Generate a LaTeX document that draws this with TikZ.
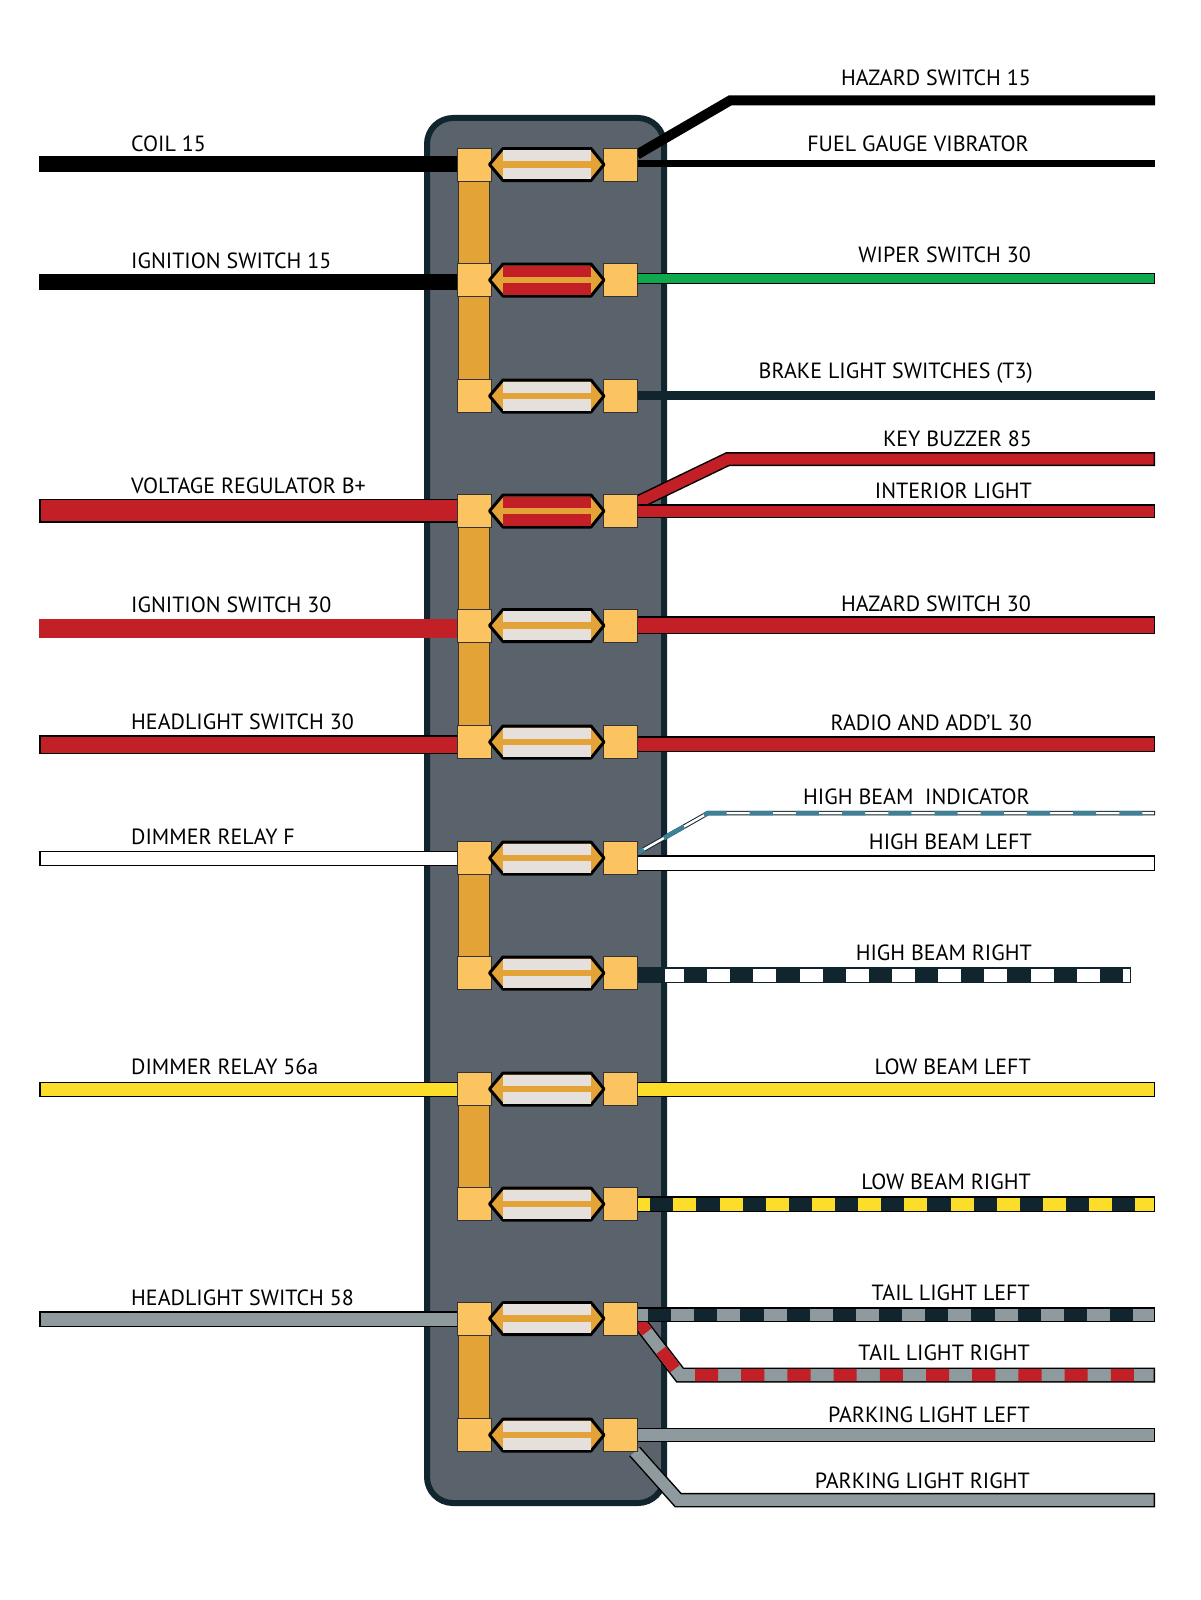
\documentclass[tikz,border=0pt]{standalone}
\usepackage{fontspec}
\setmainfont{PT Sans}
\pgfdeclarelayer{panellayer}
\pgfdeclarelayer{wirelayer}
\pgfsetlayers{panellayer,wirelayer,main}
\definecolor{panelfill}{HTML}{5A636B}
\definecolor{dark}{HTML}{10252D}
\definecolor{termfill}{HTML}{FCC361}
\definecolor{busfill}{HTML}{E3A337}
\definecolor{glass}{HTML}{E6E0DC}
\definecolor{wred}{HTML}{C22026}
\definecolor{wgreen}{HTML}{10A84F}
\definecolor{wyellow}{HTML}{FBDD2A}
\definecolor{wgray}{HTML}{8F9A9E}
\definecolor{wteal}{HTML}{3C8197}
\tikzset{
  terminal/.style={draw=black!80,line width=1pt,fill=termfill,minimum width=34pt,minimum height=33pt,inner sep=0pt,outer sep=0pt},
  fusebody/.style={draw=black,line width=3pt,fill=busfill,line join=round},
  llabel/.style={anchor=base west,inner sep=0pt,font=\fontsize{22}{26}\selectfont},
  rlabel/.style={anchor=base east,inner sep=0pt,font=\fontsize{22}{26}\selectfont},
  seg/.style={dash pattern=on 23.1pt off 23.1pt},
}
\newcommand{\wireline}[3]{% width, colour, path
  \draw[black,line width=#1pt,line join=miter] #3;
  \draw[#2,line width=#1pt-3pt,line join=miter,shorten >=1.5pt] #3;}
\newcommand{\plainwire}[3]{\draw[#2,line width=#1pt,line join=miter] #3;}
\newcommand{\segwire}[4]{% width, colour, phase, path
  \draw[#2,seg,dash phase=#3pt,line width=#1pt-3pt,line join=miter,shorten >=1.5pt] #4;}
\begin{document}
\begin{tikzpicture}[x=1pt,y=-1pt]
\useasboundingbox (0,0) rectangle (1200,1600);
\begin{pgfonlayer}{panellayer}
\fill[white] (0,0) rectangle (1200,1600);
\draw[draw=dark,fill=panelfill,line width=6pt,rounded corners=26pt] (427,118) rectangle (664,1503);
\end{pgfonlayer}
% terminals and fuses
\foreach \n/\y/\c in {1/164.5/glass,2/280/wred,3/396/glass,4/511/wred,5/625.5/glass,6/742/glass,7/858/glass,8/973/glass,9/1089/glass,10/1204/glass,11/1318.5/glass,12/1435/glass}{
  \node[terminal] (L\n) at (474,\y) {};
  \node[terminal] (R\n) at (620,\y) {};
  \path[fusebody] (489.5,\y) -- (503,\y-16) -- (591,\y-16) -- (604,\y) -- (591,\y+16) -- (503,\y+16) -- cycle;
  \fill[\c] (503,\y-14.5) rectangle (590.5,\y-3.5);
  \fill[\c] (503,\y+3) rectangle (590.5,\y+14.5);
}
% free ends
\coordinate (a1) at (39,164);
\coordinate (a2) at (39,282);
\coordinate (a4) at (39,510.5);
\coordinate (a5) at (39,628);
\coordinate (a6) at (39,744.5);
\coordinate (a7) at (39,858.5);
\coordinate (a9) at (39,1089.5);
\coordinate (a11) at (39,1319);
\coordinate (b1) at (1155,163.5);
\coordinate (h1) at (730,100.5);
\coordinate (b1x) at (1155,100.5);
\coordinate (b2) at (1155,278.5);
\coordinate (b3) at (1155,395.5);
\coordinate (b4) at (1155,511);
\coordinate (k4) at (728,459);
\coordinate (b4x) at (1155,459);
\coordinate (b5) at (1155,625);
\coordinate (b6) at (1155,744);
\coordinate (b7) at (1155,863);
\coordinate (i7) at (708,813);
\coordinate (b7x) at (1155,813);
\coordinate (b8) at (1131,975);
\coordinate (b8a) at (665,975);
\coordinate (b9) at (1155,1089.5);
\coordinate (b10) at (1155,1204);
\coordinate (b11) at (1155,1314.5);
\coordinate (t0) at (630,1310);
\coordinate (t11) at (680,1375);
\coordinate (b11x) at (1155,1375);
\coordinate (b12) at (1155,1435);
\coordinate (p12) at (678,1500);
\coordinate (b12x) at (1155,1500);
\begin{pgfonlayer}{wirelayer}
% left wires
\plainwire{16}{black}{(L1 |- a1) -- (a1)}
\plainwire{16}{black}{(L2 |- a2) -- (a2)}
\wireline{24}{wred}{(L4 |- a4) -- (a4)}
\plainwire{19}{wred}{(L5 |- a5) -- (a5)}
\wireline{19}{wred}{(L6 |- a6) -- (a6)}
\wireline{15.5}{white}{(L7 |- a7) -- (a7)}
\wireline{15.5}{wyellow}{(L9 |- a9) -- (a9)}
\wireline{16}{wgray}{(L11 |- a11) -- (a11)}
% right wires
\plainwire{10}{black}{(R1) -- (h1) -- (b1x)}
\plainwire{7.5}{black}{(R1 |- b1) -- (b1)}
\wireline{11.5}{wgreen}{(R2 |- b2) -- (b2)}
\plainwire{9}{dark}{(R3 |- b3) -- (b3)}
\wireline{14}{wred}{(R4) -- (k4) -- (b4x)}
\wireline{14}{wred}{(R4 |- b4) -- (b4)}
\wireline{18}{wred}{(R5 |- b5) -- (b5)}
\wireline{16}{wred}{(R6 |- b6) -- (b6)}
\draw[dark,line width=4.5pt,line join=miter] ([yshift=-5pt]R7.center) -- (i7) -- (b7x);
\draw[white,line width=2.5pt,line join=miter,shorten >=1pt] ([yshift=-5pt]R7.center) -- (i7) -- (b7x);
\draw[wteal,seg,dash phase=41.9pt,line width=4.5pt,line join=miter] ([yshift=-5pt]R7.center) -- (i7) -- (b7x);
\wireline{16}{white}{(R7 |- b7) -- (b7)}
\draw[dark,line width=16pt] (R8 |- b8) -- (b8);
\draw[white,line width=13pt,shorten >=1.5pt] (R8 |- b8) -- (b8);
\segwire{16}{dark}{28.4}{(R8 |- b8) -- (b8)}
\draw[dark,line width=16pt] (R8 |- b8) -- (b8a);
\wireline{15.5}{wyellow}{(R9 |- b9) -- (b9)}
\wireline{16}{wyellow}{(R10 |- b10) -- (b10)}
\segwire{16}{dark}{16}{(R10 |- b10) -- (b10)}
\wireline{15}{wgray}{(t0) -- (t11) -- (b11x)}
\segwire{15}{wred}{41.6}{(t0) -- (t11) -- (b11x)}
\wireline{15}{wgray}{(R11 |- b11) -- (b11)}
\segwire{15}{dark}{18.2}{(R11 |- b11) -- (b11)}
\wireline{14.5}{wgray}{(R12 |- b12) -- (b12)}
\wireline{14.5}{wgray}{(R12) -- (p12) -- (b12x)}
% bus bars
\draw[black!80,line width=32pt] (L1) -- (L3);
\draw[busfill,line width=30pt] (L1) -- (L3);
\draw[black!80,line width=32pt] (L4) -- (L6);
\draw[busfill,line width=30pt] (L4) -- (L6);
\draw[black!80,line width=32pt] (L7) -- (L8);
\draw[busfill,line width=30pt] (L7) -- (L8);
\draw[black!80,line width=32pt] (L9) -- (L10);
\draw[busfill,line width=30pt] (L9) -- (L10);
\draw[black!80,line width=32pt] (L11) -- (L12);
\draw[busfill,line width=30pt] (L11) -- (L12);
\end{pgfonlayer}
% labels
\foreach \nm/\y/\t in {la/151/COIL 15,lb/268.5/IGNITION SWITCH 15,lc/493/VOLTAGE REGULATOR B+,ld/612/IGNITION SWITCH 30,le/729/HEADLIGHT SWITCH 30,lf/844/DIMMER RELAY F,lg/1074.5/DIMMER RELAY 56a,lh/1305/HEADLIGHT SWITCH 58}{
  \node[llabel] (\nm) at (131,\y) {\t};
}
\node[rlabel] (ra) at (1031,86) {HAZARD SWITCH 15};
\node[rlabel] (rb) at (1029,151) {FUEL GAUGE VIBRATOR};
\node[rlabel] (rc) at (1031,262) {WIPER SWITCH 30};
\node[rlabel] (rd) at (1033,378.5) {BRAKE LIGHT SWITCHES (T3)};
\node[rlabel] (re) at (1032,446) {KEY BUZZER 85};
\node[rlabel] (rf) at (1032,498) {INTERIOR LIGHT};
\node[rlabel] (rg) at (1031,611) {HAZARD SWITCH 30};
\node[rlabel] (rh) at (1032,730) {RADIO AND ADD’L 30};
\node[rlabel] (ri) at (1030,804) {HIGH BEAM\ \ INDICATOR};
\node[rlabel] (rj) at (1032,849) {HIGH BEAM LEFT};
\node[rlabel] (rk) at (1032,960) {HIGH BEAM RIGHT};
\node[rlabel] (rl) at (1031,1074.5) {LOW BEAM LEFT};
\node[rlabel] (rm) at (1031,1189) {LOW BEAM RIGHT};
\node[rlabel] (rn) at (1030,1300) {TAIL LIGHT LEFT};
\node[rlabel] (ro) at (1030,1360) {TAIL LIGHT RIGHT};
\node[rlabel] (rp) at (1030,1422) {PARKING LIGHT LEFT};
\node[rlabel] (rq) at (1030,1488) {PARKING LIGHT RIGHT};
\end{tikzpicture}
\end{document}
